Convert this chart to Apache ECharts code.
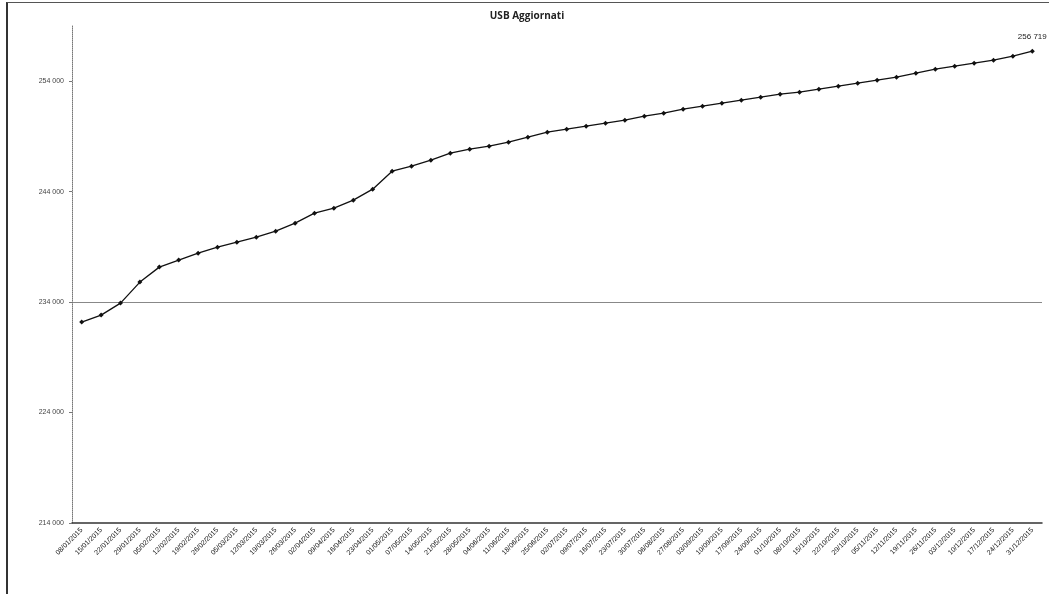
<!DOCTYPE html>
<html><head><meta charset="utf-8">
<script src="https://cdn.jsdelivr.net/npm/echarts@6/dist/echarts.min.js"></script>
<style>
html,body{margin:0;padding:0;background:#fff;}
#frame{position:absolute;left:6px;top:2px;width:1043px;height:592px;border-left:2px solid #333;border-top:1px solid #555;box-sizing:border-box;}
#c{position:absolute;left:0;top:0;width:1049px;height:594px;}
</style></head>
<body>
<div id="frame"></div>
<div id="c"></div>
<script>
const title = 'USB Aggiornati';
const dates = ['08/01/2015','15/01/2015','22/01/2015','29/01/2015','05/02/2015','12/02/2015','19/02/2015','26/02/2015','05/03/2015','12/03/2015','19/03/2015','26/03/2015','02/04/2015','09/04/2015','16/04/2015','23/04/2015','01/05/2015','07/05/2015','14/05/2015','21/05/2015','28/05/2015','04/06/2015','11/06/2015','18/06/2015','25/06/2015','02/07/2015','09/07/2015','16/07/2015','23/07/2015','30/07/2015','06/08/2015','27/08/2015','03/09/2015','10/09/2015','17/09/2015','24/09/2015','01/10/2015','08/10/2015','15/10/2015','22/10/2015','29/10/2015','05/11/2015','12/11/2015','19/11/2015','26/11/2015','03/12/2015','10/12/2015','17/12/2015','24/12/2015','31/12/2015'];
const usb = [232190,232824,233910,235811,237168,237802,238435,238978,239431,239883,240426,241150,242055,242508,243232,244227,245856,246309,246852,247485,247847,248119,248481,248933,249386,249657,249929,250200,250472,250834,251105,251467,251739,252010,252282,252553,252825,253006,253277,253549,253820,254092,254363,254725,255087,255359,255630,255902,256264,256719];
const yMin = 214000, yMax = 259000, yStep = 10000;

const fmt = v => String(Math.round(v)).replace(/\B(?=(\d{3})+(?!\d))/g, ' ');
const chart = echarts.init(document.getElementById('c'));
chart.setOption({
  animation:false,
  backgroundColor:'transparent',
  title:{text:title,left:522,top:6,textAlign:'center',textStyle:{fontFamily:'Open Sans',fontSize:10,fontWeight:'bold',color:'#222'}},
  grid:{left:72,right:7,top:26,bottom:71},
  xAxis:{type:'category',data:dates,boundaryGap:true,
    axisLine:{lineStyle:{color:'#333',width:1.5}},
    axisTick:{show:false},
    axisLabel:{interval:0,rotate:45,fontSize:7,color:'#111',fontFamily:'Liberation Sans',margin:6}},
  yAxis:{type:'value',min:yMin,max:yMax,interval:yStep,
    axisLine:{show:true,lineStyle:{color:'#777',type:'dotted',width:1}},
    axisTick:{show:true,length:3,lineStyle:{color:'#777'}},
    axisLabel:{formatter:fmt,fontSize:7,color:'#444',fontFamily:'Liberation Sans',margin:8,showMaxLabel:false},
    splitLine:{show:true,lineStyle:{color:['none','none','#888','none','none'],width:1}}},
  series:[{type:'line',data:usb,symbol:'diamond',symbolSize:5,
    lineStyle:{color:'#111',width:1.3},itemStyle:{color:'#111'},
    label:{show:true,position:'top',distance:8,fontSize:8,color:'#222',fontFamily:'Liberation Sans',
      formatter:p=>p.dataIndex===usb.length-1?fmt(p.value):''}}]
});
</script>
</body></html>
